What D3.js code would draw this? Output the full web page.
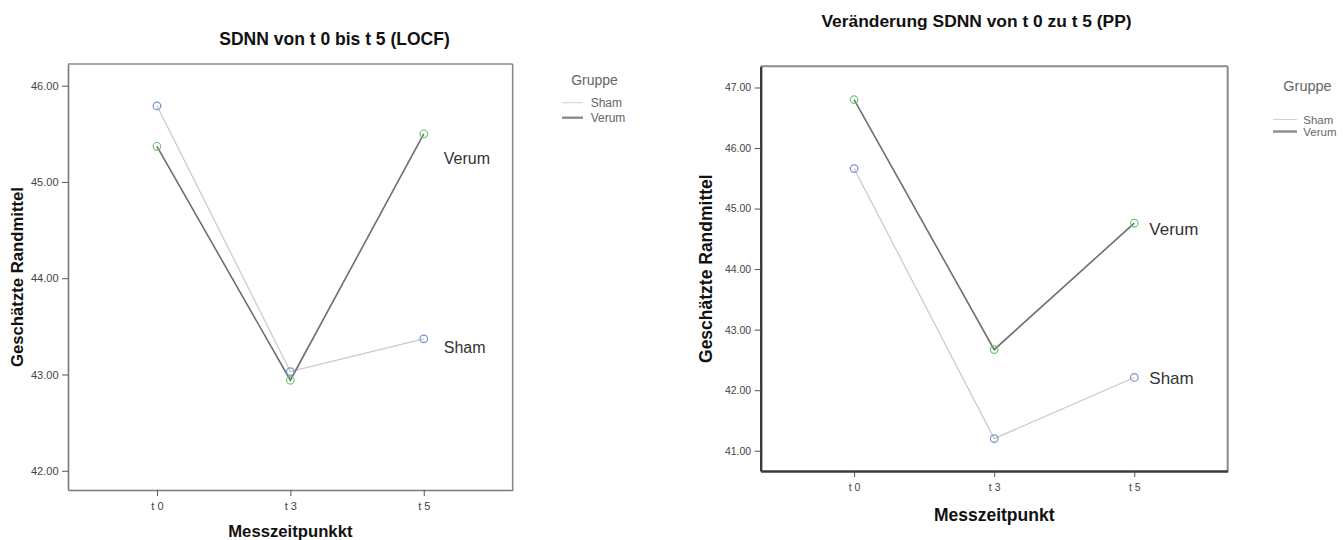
<!DOCTYPE html>
<html><head><meta charset="utf-8">
<script src="https://cdn.jsdelivr.net/npm/d3@7"></script>
<style>
body{margin:0;background:#fff;}
text{font-family:"Liberation Sans",Arial,sans-serif;}
</style></head>
<body><svg id="c" width="1343" height="540"></svg>
<script>
const timepoints = ["t 0", "t 3", "t 5"];
const groups = ["Sham", "Verum"];
// Left chart: SDNN von t 0 bis t 5 (LOCF)
const leftSham = [45.79, 43.03, 43.37];
const leftVerum = [45.37, 42.94, 45.50];
const leftTicks = [42, 43, 44, 45, 46];
const leftLabelValues = [43.28, 45.24]; // Sham, Verum label anchors
// Right chart: Veränderung SDNN von t 0 zu t 5 (PP)
const rightSham = [45.66, 41.20, 42.21];
const rightVerum = [46.80, 42.67, 44.76];
const rightTicks = [41, 42, 43, 44, 45, 46, 47];
const rightLabelValues = [42.20, 44.66];

const svg = d3.select("#c");
const lineColor = {Sham:"#c9c9c9", Verum:"#6e6e6e"};
const lineWidth = {Sham:1.2, Verum:1.6};
const markColor = {Sham:"#7d8fd8", Verum:"#70c870"};

function chart(o){
  const g = svg.append("g");
  const x = d3.scalePoint().domain(timepoints).range([o.x0, o.x1]).padding(2/3);
  const y = d3.scaleLinear().domain(o.ydom).range([o.y1, o.y0]);
  // frame
  g.append("line").attr("x1",o.x0).attr("x2",o.x1).attr("y1",o.y0).attr("y2",o.y0).attr("stroke",o.frameTop).attr("stroke-width",o.fwTop);
  g.append("line").attr("x1",o.x1).attr("x2",o.x1).attr("y1",o.y0).attr("y2",o.y1).attr("stroke",o.frameTop).attr("stroke-width",o.fwTop);
  const ya = g.append("g").attr("transform",`translate(${o.x0},0)`)
    .call(d3.axisLeft(y).tickValues(o.ticks).tickFormat(d3.format(".2f")).tickSize(6).tickSizeOuter(0));
  const xa = g.append("g").attr("transform",`translate(0,${o.y1})`)
    .call(d3.axisBottom(x).tickSize(6).tickSizeOuter(0));
  [ya, xa].forEach(a=>{
    a.select(".domain").attr("stroke",o.frameAxis).attr("stroke-width",o.fwAxis);
    a.selectAll(".tick line").attr("stroke","#555").attr("stroke-width",1);
    a.selectAll(".tick text").attr("fill","#444").style("font-size",o.tickFont+"px");
  });
  ya.selectAll(".tick text").attr("x",-9.5);
  xa.selectAll(".tick text").attr("y",12.5);
  // lines & markers
  const series = [{k:"Sham", v:o.sham},{k:"Verum", v:o.verum}];
  const line = d3.line().x((d,i)=>x(timepoints[i])).y(d=>y(d));
  series.forEach(s=>{
    g.append("path").datum(s.v).attr("d",line).attr("fill","none")
      .attr("stroke",lineColor[s.k]).attr("stroke-width",lineWidth[s.k]);
  });
  series.forEach(s=>{
    g.selectAll(null).data(s.v).join("circle")
      .attr("cx",(d,i)=>x(timepoints[i])).attr("cy",d=>y(d)).attr("r",3.8)
      .attr("fill","none").attr("stroke",markColor[s.k]).attr("stroke-width",1.2);
  });
  // end labels
  groups.forEach((k,i)=>{
    g.append("text").attr("x",x(timepoints[2])+o.labDx).attr("y",y(o.labels[i]))
      .attr("dy","0.35em").style("font-size",o.labFont+"px").attr("fill","#333").text(k);
  });
  // titles
  g.append("text").attr("x",o.titleX).attr("y",o.titleY).attr("text-anchor","middle")
    .attr("dy","0.35em").style("font-size",o.titleFont+"px").style("font-weight","bold").attr("fill","#111").text(o.title);
  g.append("text").attr("transform",`translate(${o.ylabX},${(o.y0+o.y1)/2}) rotate(-90)`)
    .attr("text-anchor","middle").attr("dy","0.35em").style("font-size",o.axFont+"px").style("font-weight","bold").attr("fill","#111")
    .text("Geschätzte Randmittel");
  g.append("text").attr("x",(o.x0+o.x1)/2).attr("y",o.xlabY).attr("text-anchor","middle").attr("dy","0.35em")
    .style("font-size",o.axFont+"px").style("font-weight","bold").attr("fill","#111").text(o.xlab);
  // legend
  const L = o.legend;
  g.append("text").attr("x",L.gx).attr("y",L.y).attr("text-anchor","middle").attr("dy","0.35em")
    .style("font-size",L.gf+"px").attr("fill","#666").text("Gruppe");
  groups.forEach((k,i)=>{
    const yy = L.y0 + i*L.dy;
    g.append("line").attr("x1",L.x).attr("x2",L.x+L.len).attr("y1",yy).attr("y2",yy)
      .attr("stroke",k==="Sham"?"#d0d0d0":"#8c8c8c").attr("stroke-width",k==="Sham"?1:2.4);
    g.append("text").attr("x",L.tx).attr("y",yy).attr("dy","0.35em").style("font-size",L.f+"px").attr("fill","#666").text(k);
  });
}

chart({x0:68, x1:512.7, y0:64, y1:490, ydom:[41.80,46.225], ticks:leftTicks,
  sham:leftSham, verum:leftVerum, labels:leftLabelValues,
  frameTop:"#8a8a8a", fwTop:1.6, frameAxis:"#7a7a7a", fwAxis:1.6, tickFont:11,
  title:"SDNN von t 0 bis t 5 (LOCF)", titleX:334.5, titleY:39, titleFont:17.5,
  axFont:16.7, xlab:"Messzeitpunkkt", labFont:16, labDx:20,
  ylabX:17, xlabY:531, legend:{gx:594.5, y:80, gf:14, x:562, len:21, tx:590.7, y0:102.7, dy:15, f:12}});

chart({x0:760.7, x1:1227.7, y0:66.3, y1:471, ydom:[40.665,47.35], ticks:rightTicks,
  sham:rightSham, verum:rightVerum, labels:rightLabelValues,
  frameTop:"#8a8a8a", fwTop:2, frameAxis:"#3a3a3a", fwAxis:2.4, tickFont:10.5,
  title:"Veränderung SDNN von t 0 zu t 5 (PP)", titleX:976.5, titleY:20.5, titleFont:17.4,
  axFont:17.5, xlab:"Messzeitpunkt", labFont:17, labDx:15,
  ylabX:706, xlabY:515, legend:{gx:1307.5, y:86, gf:14.5, x:1273, len:24, tx:1303.3, y0:119.5, dy:12, f:11.5}});
</script></body></html>
